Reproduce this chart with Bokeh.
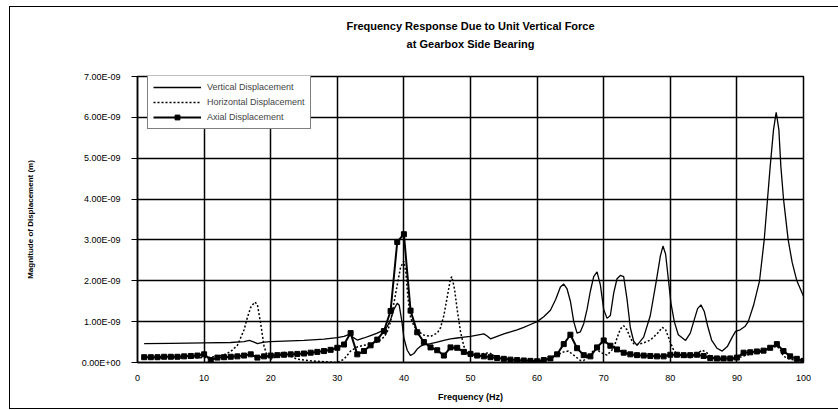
from bokeh.plotting import figure
from bokeh.models import (Range1d, FixedTicker, CustomJSTickFormatter, Legend,
                          LegendItem, Title)
from bokeh.embed import file_html
from bokeh.resources import INLINE

# ---------------- data (magnitudes in units of 1e-9 m) ----------------
UNIT = 1e-9

vert_f = [1, 5, 10, 14, 16, 16.8, 17.5, 18, 18.5, 19, 20, 25, 28, 30, 31, 31.8, 32.3, 33,
          34, 35, 36, 37, 37.5, 38, 38.5, 39, 39.3, 39.7, 40, 40.5, 41, 41.5, 42, 42.5,
          43, 44, 45, 46, 47, 48, 49, 50, 51, 52, 52.5, 53, 54, 55, 56, 57, 58, 59, 60,
          61, 62, 62.8, 63.5, 64, 64.5, 65, 65.5, 66, 66.5, 67, 67.5, 68, 68.5, 69, 69.5,
          70, 70.5, 71, 71.5, 72, 72.5, 73, 73.5, 74, 74.5, 75, 76, 77, 77.9, 78.5, 78.9,
          79.3, 79.7, 80.1, 80.6, 81.2, 82.3, 83, 83.6, 84.1, 84.6, 85.1, 85.6, 86.2,
          87, 87.8, 88.6, 89.3, 89.8, 90.5, 91.2, 91.7, 92.5, 93.4, 94.1, 94.6, 95,
          95.5, 95.9, 96.3, 96.6, 97, 97.7, 98.3, 99, 100]
vert_m = [0.46, 0.47, 0.48, 0.49, 0.51, 0.54, 0.50, 0.46, 0.48, 0.50, 0.51, 0.54, 0.57,
          0.61, 0.64, 0.69, 0.62, 0.55, 0.60, 0.66, 0.72, 0.80, 0.88, 1.05, 1.30, 1.45,
          1.40, 1.00, 0.60, 0.30, 0.17, 0.22, 0.33, 0.40, 0.43, 0.46, 0.50, 0.54, 0.58,
          0.60, 0.62, 0.64, 0.67, 0.70, 0.65, 0.58, 0.64, 0.70, 0.75, 0.80, 0.86, 0.93,
          1.00, 1.12, 1.28, 1.55, 1.85, 1.92, 1.80, 1.50, 1.00, 0.72, 0.75, 0.95, 1.30,
          1.75, 2.10, 2.22, 1.90, 1.30, 1.08, 1.15, 1.70, 2.05, 2.13, 2.10, 1.55, 0.85,
          0.52, 0.42, 0.62, 1.15, 2.00, 2.60, 2.85, 2.65, 2.05, 1.45, 1.00, 0.68, 0.54,
          0.72, 1.05, 1.32, 1.41, 1.25, 0.90, 0.55, 0.35, 0.28, 0.40, 0.62, 0.76, 0.80,
          0.88, 1.00, 1.40, 2.00, 3.00, 4.00, 4.80, 5.70, 6.12, 5.70, 4.80, 4.00, 3.00,
          2.45, 2.00, 1.62]

horiz_f = [1, 5, 10, 11, 12, 13, 14, 15, 16, 16.5, 17, 17.6, 18, 18.5, 19, 19.5, 20, 21,
           21.8, 22.5, 23, 24, 25, 26, 28, 30, 31, 32, 33, 34, 35, 36, 37, 37.5, 38, 38.5,
           39, 39.5, 40, 40.3, 40.6, 41, 41.5, 42, 43, 44, 45, 45.5, 46, 46.5, 47, 47.2,
           47.6, 48, 48.5, 49, 49.5, 50, 51, 52, 52.8, 53.5, 54.5, 56, 58, 60, 61, 62, 63,
           64, 64.7, 65.5, 66.5, 67, 68, 68.5, 69, 69.5, 70.5, 71.5, 72, 72.5, 73, 73.5,
           74, 74.5, 75, 76, 77, 78, 78.8, 79.3, 80, 80.5, 81, 82, 83, 84, 84.8, 85.5, 86,
           87, 88, 89, 90, 91, 92, 93, 94, 95, 96, 96.5, 97, 98, 99, 100]
horiz_m = [0.11, 0.11, 0.12, 0.13, 0.15, 0.19, 0.27, 0.42, 0.80, 1.10, 1.35, 1.48, 1.42,
           0.95, 0.40, 0.15, 0.08, 0.16, 0.26, 0.22, 0.15, 0.08, 0.06, 0.04, 0.02, 0.00,
           0.08, 0.28, 0.38, 0.42, 0.45, 0.50, 0.62, 0.75, 1.00, 1.45, 1.90, 2.33, 2.48,
           2.20, 1.60, 1.10, 0.90, 0.78, 0.67, 0.64, 0.72, 0.85, 1.15, 1.60, 2.05, 2.10,
           1.80, 1.30, 0.75, 0.40, 0.22, 0.18, 0.17, 0.22, 0.24, 0.17, 0.13, 0.08, 0.03,
           0.01, 0.05, 0.10, 0.18, 0.26, 0.28, 0.18, 0.05, 0.05, 0.20, 0.30, 0.32, 0.25,
           0.18, 0.35, 0.60, 0.82, 0.90, 0.80, 0.60, 0.46, 0.44, 0.48, 0.55, 0.70, 0.86,
           0.80, 0.50, 0.30, 0.20, 0.14, 0.12, 0.22, 0.30, 0.24, 0.15, 0.08, 0.06, 0.07,
           0.10, 0.16, 0.20, 0.24, 0.28, 0.35, 0.40, 0.32, 0.15, 0.08, 0.05, 0.03]

axial_f = list(range(1, 101))
axial_m = [0.13, 0.13, 0.13, 0.14, 0.14, 0.14, 0.15, 0.16, 0.17, 0.20,
           0.06, 0.12, 0.13, 0.14, 0.15, 0.17, 0.20, 0.12, 0.15, 0.17,
           0.18, 0.19, 0.20, 0.21, 0.22, 0.24, 0.26, 0.28, 0.31, 0.36,
           0.44, 0.72, 0.20, 0.28, 0.42, 0.56, 0.77, 1.26, 2.95, 3.14,
           1.27, 0.74, 0.50, 0.37, 0.30, 0.17, 0.37, 0.36, 0.26, 0.21,
           0.17, 0.15, 0.13, 0.11, 0.09, 0.07, 0.06, 0.05, 0.04, 0.03,
           0.06, 0.10, 0.20, 0.45, 0.68, 0.35, 0.18, 0.15, 0.37, 0.54,
           0.41, 0.32, 0.24, 0.20, 0.18, 0.17, 0.16, 0.15, 0.15, 0.19,
           0.19, 0.18, 0.18, 0.19, 0.16, 0.11, 0.10, 0.10, 0.10, 0.12,
           0.24, 0.25, 0.27, 0.29, 0.36, 0.45, 0.28, 0.15, 0.09, 0.04]

x_ticks = [0, 10, 20, 30, 40, 50, 60, 70, 80, 90, 100]
y_ticks_units = [0, 1, 2, 3, 4, 5, 6, 7]

title_lines = ["Frequency Response Due to Unit Vertical Force", "at Gearbox Side Bearing"]
series_names = ["Vertical Displacement", "Horizontal Displacement", "Axial Displacement"]
x_label = "Frequency (Hz)"
y_label = "Magnitude of Displacement (m)"

# ---------------- figure ----------------
FONT = "Liberation Sans"

# outer chart border drawn as CSS lines on the page element (left/top/bottom)
border_css = ("linear-gradient(#000,#000) 9px 6px / 1px 403px no-repeat, "
              "linear-gradient(#000,#000) 9px 6px / 829px 1px no-repeat, "
              "linear-gradient(#000,#000) 9px 408px / 829px 1px no-repeat, #ffffff")

p = figure(width=838, height=410, output_backend="svg", toolbar_location=None,
           x_range=Range1d(0, 100), y_range=Range1d(0, 7 * UNIT),
           min_border_left=137, min_border_right=35, min_border_top=76,
           min_border_bottom=48, background_fill_color="white",
           border_fill_alpha=0.0, styles={"background": border_css})

p.outline_line_color = "black"
p.outline_line_width = 1.5

y_ticks = [v * UNIT for v in y_ticks_units]
for g, t in ((p.xgrid, x_ticks), (p.ygrid, y_ticks)):
    g.ticker = FixedTicker(ticks=t)
    g.grid_line_color = "black"
    g.grid_line_width = 1.5
    g.grid_line_alpha = 1.0

p.xaxis.ticker = FixedTicker(ticks=x_ticks)
p.yaxis.ticker = FixedTicker(ticks=y_ticks)
p.yaxis.formatter = CustomJSTickFormatter(code="""
const s = tick.toExponential(2).toUpperCase();
const parts = s.split("E");
const sign = parts[1][0] === "-" ? "-" : "+";
let d = parts[1].replace(/[+-]/, "");
if (d.length < 2) d = "0" + d;
return parts[0] + "E" + sign + d;
""")

for ax in (p.xaxis[0], p.yaxis[0]):
    ax.axis_line_color = "black"
    ax.axis_line_width = 1.5
    ax.major_tick_line_color = "black"
    ax.minor_tick_line_color = None
    ax.major_label_text_font = FONT
    ax.major_label_text_font_size = "9px"
    ax.major_label_text_color = "black"
    ax.axis_label_text_font = FONT
    ax.axis_label_text_font_style = "bold"
    ax.axis_label_text_color = "black"

p.xaxis.major_tick_out = 0
p.xaxis.major_tick_in = 0
p.xaxis.major_label_standoff = 12
p.xaxis.axis_label = x_label
p.xaxis.axis_label_text_font_size = "9px"
p.xaxis.axis_label_standoff = 8

p.yaxis.major_tick_out = 6
p.yaxis.major_tick_in = 0
p.yaxis.major_label_standoff = 11
p.yaxis.axis_label = y_label
p.yaxis.axis_label_text_font_size = "8px"
p.yaxis.axis_label_standoff = 44

# ---------------- series ----------------
vy = [v * UNIT for v in vert_m]
hy = [v * UNIT for v in horiz_m]
ay = [v * UNIT for v in axial_m]

r_v = p.line(vert_f, vy, line_color="black", line_width=1.3)
r_h = p.line(horiz_f, hy, line_color="black", line_width=1.5, line_dash="2 2")
r_a = p.line(axial_f, ay, line_color="black", line_width=2)
r_am = p.scatter(axial_f, ay, marker="square", size=5, fill_color="black",
                 line_color="black")

legend = Legend(items=[LegendItem(label=series_names[0], renderers=[r_v]),
                       LegendItem(label=series_names[1], renderers=[r_h]),
                       LegendItem(label=series_names[2], renderers=[r_a, r_am])],
                location=(10, 233), glyph_width=48, glyph_height=12,
                label_height=12, label_standoff=6, spacing=3, padding=5, margin=0,
                label_text_font=FONT, label_text_font_size="9px",
                border_line_color="black", border_line_width=1,
                background_fill_color="white", background_fill_alpha=1.0)
p.add_layout(legend)

# ---------------- titles (stacked outward from the frame) ----------------
p.add_layout(Title(text=" ", standoff=11, text_font=FONT, text_font_size="11px"),
             "above")
p.add_layout(Title(text=title_lines[1], align="center", offset=-44, standoff=4,
                   text_font=FONT, text_font_style="bold", text_font_size="11px",
                   text_color="black"), "above")
p.add_layout(Title(text=title_lines[0], align="center", offset=-44, standoff=4,
                   text_font=FONT, text_font_style="bold", text_font_size="11px",
                   text_color="black"), "above")

open("out.html", "w").write(file_html(p, INLINE))
